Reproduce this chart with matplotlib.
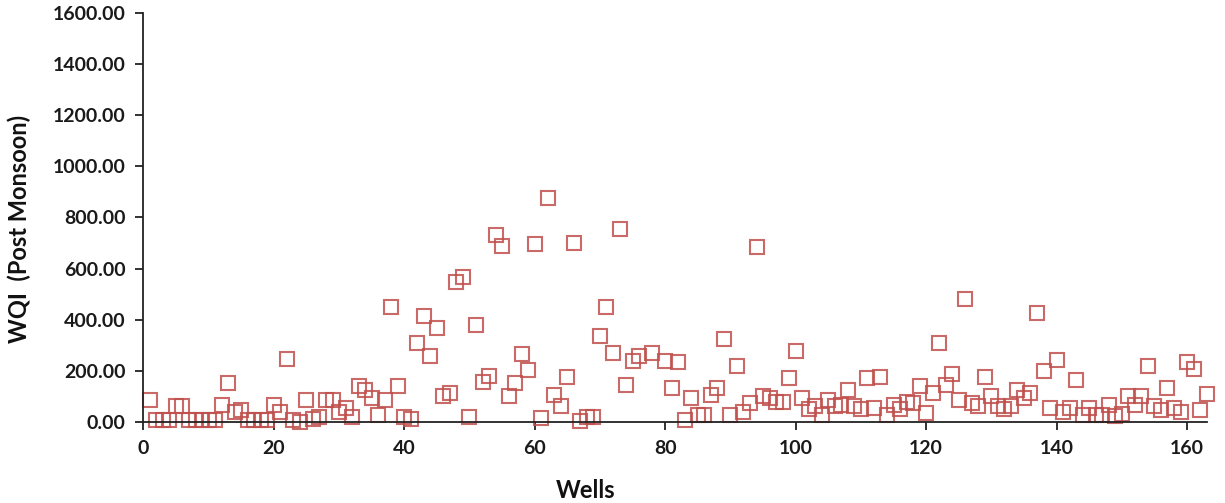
import matplotlib
matplotlib.use("Agg")
import matplotlib.pyplot as plt
from matplotlib.ticker import FormatStrFormatter

wells = [1, 2, 3, 4, 5, 6, 7, 8, 9, 10, 11, 12, 13, 14, 15, 16, 17, 18, 19, 20,
         21, 22, 23, 24, 25, 26, 27, 28, 29, 30, 31, 32, 33, 34, 35, 36, 37, 38, 39, 40,
         41, 42, 43, 44, 45, 46, 47, 48, 49, 50, 51, 52, 53, 54, 55, 56, 57, 58, 59, 60,
         61, 62, 63, 64, 65, 66, 67, 68, 69, 70, 71, 72, 73, 74, 75, 76, 78, 80,
         81, 82, 83, 84, 85, 86, 87, 88, 89, 90, 91, 92, 93, 94, 95, 96, 97, 98, 99, 100,
         101, 102, 103, 104, 105, 106, 107, 108, 109, 110, 111, 112, 113, 114, 115, 116, 117, 118, 119, 120,
         121, 122, 123, 124, 125, 126, 127, 128, 129, 130, 131, 132, 133, 134, 135, 136, 137, 138, 139, 140,
         141, 142, 143, 144, 145, 146, 147, 148, 149, 150, 151, 152, 153, 154, 155, 156, 157, 158, 159, 160,
         161, 162, 163]
wqi = [86, 5, 5, 5, 60, 60, 5, 5, 5, 5, 5, 65, 150, 39, 46, 5, 5, 5, 5, 65,
       39, 246, 5, 0, 86, 10, 20, 86, 86, 39, 52, 20, 141, 125, 92, 27, 86, 449, 140, 17,
       9, 308, 414, 258, 367, 99, 111, 549, 568, 17, 377, 157, 180, 733, 687, 99, 151, 264, 201, 695,
       16, 875, 106, 60, 174, 701, 4, 20, 17, 334, 448, 271, 754, 142, 239, 258, 271, 239,
       131, 232, 7, 92, 26, 26, 105, 131, 323, 26, 220, 39, 72, 684, 99, 92, 76, 79, 170, 276,
       92, 49, 62, 26, 86, 60, 66, 125, 60, 49, 171, 52, 174, 26, 66, 49, 76, 72, 138, 35,
       111, 308, 145, 188, 86, 481, 72, 62, 174, 99, 62, 49, 62, 123, 92, 111, 426, 197, 52, 240,
       39, 52, 162, 26, 52, 26, 26, 66, 22, 30, 99, 66, 99, 219, 60, 46, 131, 52, 39, 232,
       207, 46, 109]

x_ticks = [0, 20, 40, 60, 80, 100, 120, 140, 160]
y_ticks = [0, 200, 400, 600, 800, 1000, 1200, 1400, 1600]

plt.rcParams['font.family'] = ['Lato', 'DejaVu Sans']

fig = plt.figure(figsize=(12.25, 5.03), dpi=100)
ax = fig.add_axes([0.117, 0.1616, 0.868, 0.812])

ax.plot(wells, wqi, linestyle='none', marker='s', markersize=10,
        markerfacecolor='none', markeredgecolor='#C0504D', markeredgewidth=1.5,
        alpha=0.85, clip_on=False)

ax.set_xlim(0, 163)
ax.set_ylim(0, 1600)
ax.set_xticks(x_ticks)
ax.set_yticks(y_ticks)
ax.yaxis.set_major_formatter(FormatStrFormatter('%.2f'))

for s in ['top', 'right']:
    ax.spines[s].set_visible(False)
for s in ['left', 'bottom']:
    ax.spines[s].set_linewidth(1.3)
    ax.spines[s].set_color('#222222')

ax.tick_params(axis='both', direction='out', length=6, width=1.3, color='#222222',
               labelsize=14, pad=7)
for lbl in ax.get_xticklabels() + ax.get_yticklabels():
    lbl.set_fontweight('bold')
    lbl.set_color('#1a1a1a')

fig.text(0.478, 0.025, 'Wells', ha='center', va='center', fontsize=17,
         fontweight='bold', color='#111111')
fig.text(0.016, 0.545, 'WQI  (Post Monsoon)', ha='center', va='center', fontsize=17,
         fontweight='bold', rotation=90, color='#111111')

fig.savefig('out.png', dpi=100)
